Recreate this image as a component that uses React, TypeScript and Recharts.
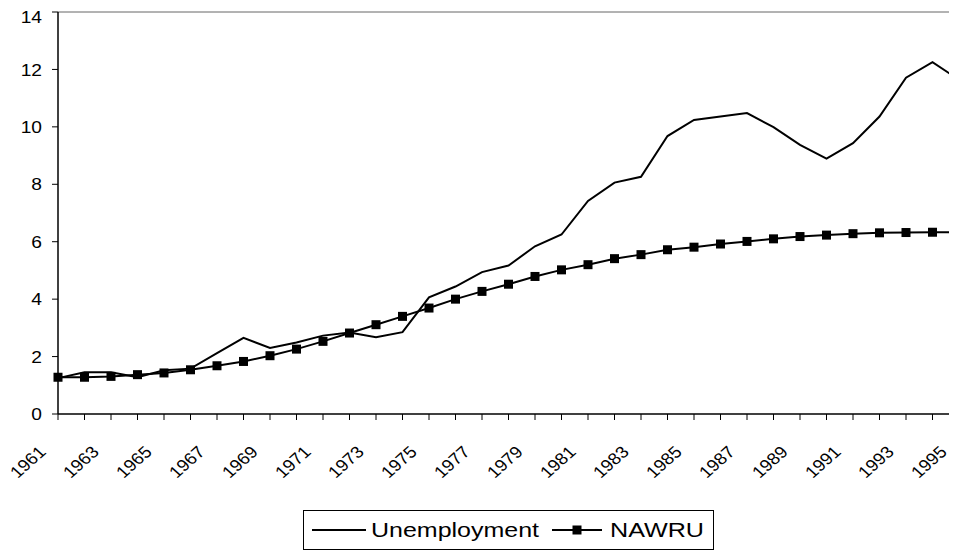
import React from "react";
import { LineChart, Line, XAxis, YAxis, Legend, ReferenceLine } from "recharts";

// ─── Data ─────────────────────────────────────────────────
const YEARS = [
  1961, 1962, 1963, 1964, 1965, 1966, 1967, 1968, 1969, 1970,
  1971, 1972, 1973, 1974, 1975, 1976, 1977, 1978, 1979, 1980,
  1981, 1982, 1983, 1984, 1985, 1986, 1987, 1988, 1989, 1990,
  1991, 1992, 1993, 1994, 1995,
];

const UNEMPLOYMENT = [
  1.25, 1.45, 1.45, 1.28, 1.52, 1.58, 2.12, 2.65, 2.3, 2.49,
  2.73, 2.84, 2.67, 2.85, 4.06, 4.44, 4.94, 5.17, 5.84, 6.25,
  7.42, 8.06, 8.26, 9.68, 10.24, 10.36, 10.48, 9.99, 9.37, 8.89,
  9.43, 10.36, 11.71, 12.25, 11.64,
];

const NAWRU = [
  1.28, 1.28, 1.31, 1.37, 1.43, 1.54, 1.68, 1.83, 2.03, 2.26,
  2.53, 2.82, 3.11, 3.4, 3.69, 4.0, 4.27, 4.52, 4.79, 5.02,
  5.2, 5.41, 5.55, 5.72, 5.81, 5.92, 6.01, 6.1, 6.18, 6.23,
  6.28, 6.31, 6.32, 6.33, 6.33,
];

const Y_TICKS = [0, 2, 4, 6, 8, 10, 12, 14];

const rows = YEARS.map((year, i) => ({
  year: String(year),
  unemployment: UNEMPLOYMENT[i],
  nawru: NAWRU[i],
}));

const FONT = "'Liberation Sans', Arial, sans-serif";
// the source picture is a bit wider than tall, text included
const STRETCH = 1.13;

// ─── Square marker ────────────────────────────────────────
function SquareDot({ cx, cy }: { cx?: number; cy?: number }) {
  if (cx == null || cy == null) return null;
  const s = 9;
  return <rect x={cx - s / 2} y={cy - s / 2} width={s} height={s} fill="#000" />;
}

// ─── Rotated year labels, every other one ─────────────────
function YearTick({ x, y, payload, index }: any) {
  if (index % 2 !== 0) return null;
  const ax = x - 11;
  const ay = y + 31;
  return (
    <text
      x={0}
      y={0}
      textAnchor="end"
      fontSize={16.5}
      fontFamily={FONT}
      fill="#000"
      transform={`translate(${ax} ${ay}) scale(${STRETCH} 1) rotate(-45)`}
    >
      {payload.value}
    </text>
  );
}

function ValueTick({ x, y, payload }: any) {
  return (
    <text
      x={0}
      y={0}
      dy="0.36em"
      textAnchor="end"
      fontSize={17}
      fontFamily={FONT}
      fill="#000"
      transform={`translate(${x} ${y}) scale(${STRETCH} 1)`}
    >
      {payload.value}
    </text>
  );
}

// ─── Legend box ───────────────────────────────────────────
function LegendBox() {
  return (
    <div
      style={{
        width: 411,
        height: 40,
        boxSizing: "border-box",
        border: "1px solid #000",
        background: "#fff",
      }}
    >
      <svg width={409} height={38} style={{ display: "block" }}>
        <line x1={8} y1={19} x2={62} y2={19} stroke="#000" strokeWidth={2} />
        <text x={67} y={26} fontSize={20} fontFamily={FONT} textLength={168} lengthAdjust="spacingAndGlyphs">
          Unemployment
        </text>
        <line x1={248} y1={19} x2={298} y2={19} stroke="#000" strokeWidth={2} />
        <rect x={268.5} y={14.5} width={9} height={9} fill="#000" />
        <text x={306} y={26} fontSize={20} fontFamily={FONT} textLength={94} lengthAdjust="spacingAndGlyphs">
          NAWRU
        </text>
      </svg>
    </div>
  );
}

export default function App() {
  return (
    <div
      style={{
        marginLeft: -8,
        width: 957,
        height: 544,
        overflow: "hidden",
        position: "relative",
        background: "#fff",
      }}
    >
      <LineChart
        width={968}
        height={544}
        data={rows}
        margin={{ top: 4, right: 9, bottom: 0, left: 8 }}
      >
        <XAxis
          dataKey="year"
          interval={0}
          height={98}
          tickSize={6}
          axisLine={{ stroke: "#000", strokeWidth: 1.5 }}
          tickLine={{ stroke: "#000" }}
          tick={<YearTick />}
        />
        <YAxis
          width={50}
          domain={[0, 14]}
          ticks={Y_TICKS}
          tickSize={6}
          tickMargin={10}
          axisLine={{ stroke: "#000", strokeWidth: 1.5 }}
          tickLine={{ stroke: "#000" }}
          tick={<ValueTick />}
        />
        <ReferenceLine y={14} stroke="#666" strokeWidth={1} />
        <Legend
          verticalAlign="bottom"
          content={() => <LegendBox />}
          wrapperStyle={{ left: 303, bottom: 2, width: 411, height: 40 }}
        />
        <Line
          type="linear"
          dataKey="unemployment"
          name="Unemployment"
          stroke="#000"
          strokeWidth={2}
          dot={false}
          activeDot={false}
          isAnimationActive={false}
        />
        <Line
          type="linear"
          dataKey="nawru"
          name="NAWRU"
          stroke="#000"
          strokeWidth={2}
          dot={<SquareDot />}
          activeDot={false}
          isAnimationActive={false}
        />
      </LineChart>
    </div>
  );
}
